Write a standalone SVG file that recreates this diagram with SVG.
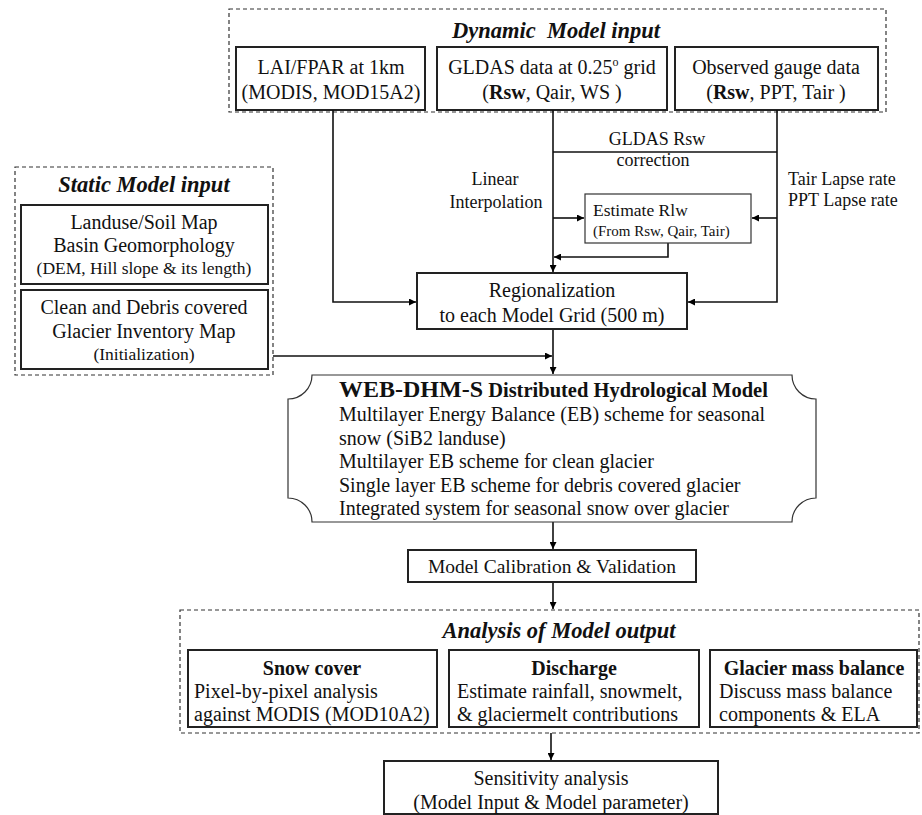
<svg xmlns="http://www.w3.org/2000/svg" width="922" height="815" viewBox="0 0 922 815">
<defs>
<marker id="ah" viewBox="0 0 8 8" refX="8" refY="4" markerWidth="7" markerHeight="7" markerUnits="userSpaceOnUse" orient="auto">
<path d="M0,0 L8,4 L0,8 Z" fill="#000"/>
</marker>
<style>
text{font-family:"Liberation Serif","Times New Roman",serif;fill:#111;}
.dash{fill:none;stroke:#333;stroke-width:1.2;stroke-dasharray:4 3;}
.box{fill:#fff;stroke:#222;stroke-width:2;}
.thin{fill:#fff;stroke:#333;stroke-width:1.2;}
.ttl{font-weight:bold;font-style:italic;font-size:22.5px;text-anchor:middle;}
.c{text-anchor:middle;}
.t20{font-size:20px;}
.t18{font-size:18px;}
.hd{font-weight:bold;font-size:20px;text-anchor:middle;}
.con{fill:none;stroke:#111;stroke-width:1.6;}
.arr{marker-end:url(#ah);}
</style>
</defs>

<g id="dynamic-input">
<rect class="dash" x="229" y="9" width="657" height="103"/>
<text class="ttl" x="556" y="38">Dynamic&#160; Model input</text>
</g>
<g id="lai">
<rect class="box" x="236" y="47" width="189" height="63"/>
<text class="c t20" x="331" y="74">LAI/FPAR at 1km</text>
<text class="c t20" x="331" y="99">(MODIS, MOD15A2)</text>
</g>
<g id="gldas">
<rect class="box" x="437" y="47" width="230" height="63"/>
<text class="c t20" x="552" y="74">GLDAS data at 0.25<tspan font-size="12" dy="-8">o</tspan><tspan dy="8"> grid</tspan></text>
<text class="c t20" x="552" y="99">(<tspan font-weight="bold">Rsw</tspan>, Qair, WS )</text>
</g>
<g id="observed">
<rect class="box" x="675" y="47" width="203" height="63"/>
<text class="c t20" x="776" y="74">Observed gauge data</text>
<text class="c t20" x="776" y="99">(<tspan font-weight="bold">Rsw</tspan>, PPT, Tair )</text>
</g>

<g id="static-input">
<rect class="dash" x="15" y="167" width="258" height="208"/>
<text class="ttl" x="144" y="192">Static Model input</text>
</g>
<g id="landuse">
<rect class="box" x="21" y="205" width="247" height="79"/>
<text class="c t20" x="144" y="229">Landuse/Soil Map</text>
<text class="c t20" x="144" y="252">Basin Geomorphology</text>
<text class="c" font-size="17.5" x="144" y="274">(DEM, Hill slope &amp; its length)</text>
</g>
<g id="glacier-map">
<rect class="box" x="21" y="290" width="247" height="79"/>
<text class="c t20" x="144" y="314">Clean and Debris covered</text>
<text class="c t20" x="144" y="338">Glacier Inventory Map</text>
<text class="c" font-size="17.5" x="144" y="360">(Initialization)</text>
</g>

<g id="connectors">
<path class="con arr" d="M333,110 V302 H416"/>
<path class="con arr" d="M553,110 V272"/>
<path class="con arr" d="M777,110 V302 H688"/>
<path class="con" d="M553,152 H777"/>
<path class="con arr" d="M553,218 H584"/>
<path class="con arr" d="M777,218 H752"/>
<path class="con arr" d="M668,243 V257 H554"/>
<path class="con arr" d="M273,356 H552"/>
<path class="con arr" d="M553,329 V374"/>
<path class="con arr" d="M553,522 V549"/>
<path class="con arr" d="M553,582 V609"/>
<path class="con arr" d="M551,733 V760"/>
</g>

<g id="labels">
<text class="c t18" x="657" y="145">GLDAS Rsw</text>
<text class="c t18" x="653" y="166">correction</text>
<text class="c t18" x="495" y="185">Linear</text>
<text class="c t18" x="496" y="208">Interpolation</text>
<text class="t18" x="788" y="185">Tair Lapse rate</text>
<text class="t18" x="788" y="206">PPT Lapse rate</text>
</g>

<g id="estimate-rlw">
<rect class="thin" x="585" y="194" width="166" height="49"/>
<text font-size="17.5" x="593" y="216">Estimate Rlw</text>
<text font-size="15" x="593" y="236">(From Rsw, Qair, Tair)</text>
</g>

<g id="regionalization">
<rect class="box" x="417" y="273" width="270" height="56"/>
<text class="c t20" x="552" y="297">Regionalization</text>
<text class="c t20" x="552" y="322">to each Model Grid (500 m)</text>
</g>

<g id="web-dhm-s">
<path class="thin" d="M312,375 H792 A24,24 0 0 0 816,399 V498 A24,24 0 0 0 792,522 H312 A24,24 0 0 0 288,498 V399 A24,24 0 0 0 312,375 Z"/>
<text x="339" y="397"><tspan font-weight="bold" font-size="24">WEB-DHM-S</tspan><tspan font-weight="bold" font-size="20.5"> Distributed Hydrological Model</tspan></text>
<text class="t20" x="339" y="421">Multilayer Energy Balance (EB) scheme for seasonal</text>
<text class="t20" x="339" y="445">snow (SiB2 landuse)</text>
<text class="t20" x="339" y="468">Multilayer EB scheme for clean glacier</text>
<text class="t20" x="339" y="492">Single layer EB scheme for debris covered glacier</text>
<text class="t20" x="339" y="515">Integrated system for seasonal snow over glacier</text>
</g>

<g id="calibration">
<rect class="box" x="408" y="550" width="288" height="32"/>
<text class="c" font-size="19.5" x="552" y="573">Model Calibration &amp; Validation</text>
</g>

<g id="analysis-output">
<rect class="dash" x="180" y="610" width="739" height="123"/>
<text class="ttl" x="559" y="638">Analysis of Model output</text>
</g>
<g id="snow-cover">
<rect class="box" x="188" y="650" width="249" height="77"/>
<text class="hd" x="312" y="675">Snow cover</text>
<text class="t20" x="194" y="698">Pixel-by-pixel analysis</text>
<text class="t20" x="194" y="721">against MODIS (MOD10A2)</text>
</g>
<g id="discharge">
<rect class="box" x="449" y="650" width="250" height="77"/>
<text class="hd" x="574" y="675">Discharge</text>
<text class="t20" x="457" y="698">Estimate rainfall, snowmelt,</text>
<text class="t20" x="457" y="721">&amp; glaciermelt contributions</text>
</g>
<g id="glacier-mass">
<rect class="box" x="710" y="650" width="207" height="77"/>
<text class="hd" x="814" y="675">Glacier mass balance</text>
<text class="t20" x="719" y="698">Discuss mass balance</text>
<text class="t20" x="719" y="721">components &amp; ELA</text>
</g>

<g id="sensitivity">
<rect class="box" x="384" y="761" width="334" height="53"/>
<text class="c t20" x="551" y="785">Sensitivity analysis</text>
<text class="c t20" x="551" y="809">(Model Input &amp; Model parameter)</text>
</g>
</svg>
